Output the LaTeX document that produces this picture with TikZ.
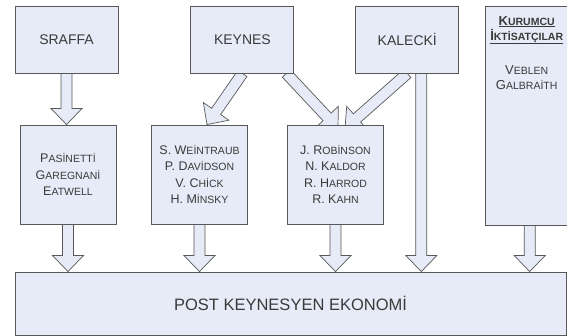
\documentclass[tikz,border=0pt]{standalone}
\usepackage{fontspec}
\setmainfont{Liberation Sans}
\usetikzlibrary{positioning,calc,backgrounds}
\definecolor{boxfill}{RGB}{231,235,247}
\definecolor{lineclr}{RGB}{88,88,88}
\definecolor{txtclr}{RGB}{58,58,58}
% fake small caps
\newcommand\smc[1]{{\fontsize{10.5}{12}\selectfont #1}}
\newcommand\fashaft{5.5pt}
\newcommand\fahead{15.5pt}
\newcommand\falen{16pt}
% hollow block arrow from #1 to #2
\newcommand\fatarrow[2]{%
  \coordinate (fa-h) at ($(#2)!\falen!(#1)$);
  \draw[fatarrow] ($(#1)!\fashaft!90:(#2)$) -- ($(fa-h)!\fashaft!90:(#2)$)
    -- ($(fa-h)!\fahead!90:(#2)$) -- (#2) -- ($(fa-h)!\fahead!-90:(#2)$)
    -- ($(fa-h)!\fashaft!-90:(#2)$) -- ($(#1)!\fashaft!-90:(#2)$) -- cycle;}
\tikzset{
  box/.style={rectangle,draw=lineclr,line width=0.9pt,fill=boxfill,
              inner sep=0pt,text=txtclr,font=\fontsize{14}{16}\selectfont},
  topbox/.style={box,minimum width=103pt,minimum height=67pt},
  midbox/.style={box,minimum width=96pt,minimum height=99pt,align=center,
                 font=\fontsize{12.5}{16.5}\selectfont},
  fatarrow/.style={draw=lineclr,line width=0.7pt,fill=boxfill,line join=miter},
}

\begin{document}
\begin{tikzpicture}[x=1pt,y=-1pt]
\useasboundingbox (0,0) rectangle (567,336);
% top row
\node[topbox] (sraffa) at (66.5,39.5) {SRAFFA};
\node[topbox,right=72pt of sraffa] (keynes) {KEYNES};
\node[topbox,right=61pt of keynes] (kalecki) {KALECKİ};
\node[box,minimum width=82pt,minimum height=219pt,
      right=26pt of kalecki.north east,anchor=north west] (kurumcu) {};
\node[text=txtclr,align=center,anchor=north,font=\fontsize{13}{15}\selectfont]
  (kurumcutxt) at ($(kurumcu.north)+(0,7)$)
  {\textbf{\underline{K\smc{URUMCU}}}\\
   \textbf{\underline{İ\smc{KTİSATÇILAR}}}\\[19pt]
   V\smc{EBLEN}\\ G\smc{ALBRAİTH}};
% middle row
\node[midbox] (pasinetti) at (68,174.5)
  {P\smc{ASİNETTİ}\\ G\smc{AREGNANİ}\\ E\smc{ATWELL}};
\node[midbox] (weintraub) at (199.5,174.5)
  {S. W\smc{EİNTRAUB}\\ P. D\smc{AVİDSON}\\ V. C\smc{HİCK}\\ H. M\smc{İNSKY}};
\node[midbox] (robinson) at (335.5,174.5)
  {J. R\smc{OBİNSON}\\ N. K\smc{ALDOR}\\ R. H\smc{ARROD}\\ R. K\smc{AHN}};
% bottom
\node[box,minimum width=551pt,minimum height=63pt,
      font=\fontsize{16.5}{18}\selectfont] (post) at (290.5,303.5)
  {POST KEYNESYEN EKONOMİ};
% block arrows
\coordinate (kw) at ($(weintraub.north)+(7.5,0)$);
\coordinate (kr1) at ($(keynes.south east)+(-8,0)$);
\coordinate (kr2) at ($(robinson.north)+(2.5,4)$);
\coordinate (kar1) at ($(robinson.north)+(9.5,4)$);
\coordinate (kap) at ($(kalecki.south)+(14,0)$);
\coordinate (kup) at ($(kurumcu.south)+(3,0)$);
\begin{scope}[on background layer]
\fatarrow{sraffa.south}{sraffa.south |- pasinetti.north}
\fatarrow{keynes.south}{kw}
\fatarrow{kr1}{kr2}
\fatarrow{kalecki.south}{kar1}
\fatarrow{kap}{kap |- post.north}
\fatarrow{pasinetti.south}{pasinetti.south |- post.north}
\fatarrow{weintraub.south}{weintraub.south |- post.north}
\fatarrow{robinson.south}{robinson.south |- post.north}
\fatarrow{kup}{kup |- post.north}
\end{scope}
\end{tikzpicture}
\end{document}
